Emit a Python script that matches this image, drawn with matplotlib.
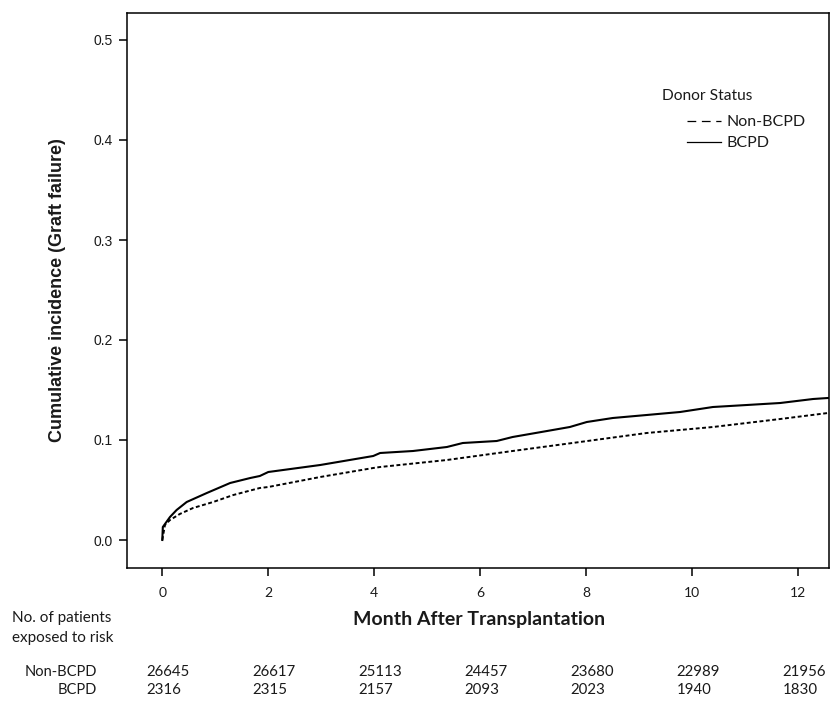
import matplotlib
matplotlib.use("Agg")
import matplotlib.pyplot as plt
import matplotlib.transforms as mtransforms

# ---- data ----
bcpd_t = [0, 0.01, 0.145, 0.27, 0.46, 0.84, 1.28, 1.66, 1.84, 2.0, 2.98, 3.98,
          4.11, 4.73, 5.37, 5.67, 6.31, 6.61, 7.26, 7.69, 8.01, 8.5, 9.14, 9.77,
          10.39, 11.03, 11.66, 12.28, 12.56]
bcpd_ci = [0, 0.013, 0.023, 0.030, 0.038, 0.047, 0.057, 0.062, 0.064, 0.068, 0.075, 0.084,
           0.087, 0.089, 0.093, 0.097, 0.099, 0.103, 0.109, 0.113, 0.118, 0.122, 0.125, 0.128,
           0.133, 0.135, 0.137, 0.141, 0.142]
non_t = [0, 0.05, 0.145, 0.33, 0.58, 0.96, 1.34, 1.84, 2.0, 2.98, 3.98, 4.11,
         5.37, 6.61, 7.88, 9.14, 10.39, 11.66, 12.56]
non_ci = [0, 0.015, 0.020, 0.026, 0.032, 0.038, 0.045, 0.052, 0.053, 0.063, 0.072, 0.073,
          0.080, 0.089, 0.098, 0.107, 0.113, 0.121, 0.127]

risk_months = [0, 2, 4, 6, 8, 10, 12]
risk_non = [26645, 26617, 25113, 24457, 23680, 22989, 21956]
risk_bcpd = [2316, 2315, 2157, 2093, 2023, 1940, 1830]

xticks = [0, 2, 4, 6, 8, 10, 12]
yticks = [0.0, 0.1, 0.2, 0.3, 0.4, 0.5]

TXT = "#1a1a1a"
W, H = 839, 702
fig = plt.figure(figsize=(W / 100, H / 100), dpi=100)

def fx(px):
    return px / W

def fy(py):
    return 1 - py / H

ax = fig.add_axes([fx(127), fy(567.5), fx(829) - fx(127), fy(12.5) - fy(567.5)])

ax.plot(non_t, non_ci, color="black", lw=1.4, linestyle=(0, (2.0, 1.3)))
ax.plot(bcpd_t, bcpd_ci, color="black", lw=1.5)

ax.set_xlim(-0.666, 12.58)
ax.set_ylim(-0.0275, 0.5275)
ax.set_xticks(xticks)
ax.set_xticklabels([str(v) for v in xticks], family="Lato", fontsize=10, color=TXT)
ax.set_yticks(yticks)
ax.set_yticklabels([f"{v:.1f}" for v in yticks], family="Liberation Sans", fontsize=10, color=TXT)
ax.tick_params(axis="both", direction="out", length=6, width=1.1, color="black")
ax.tick_params(axis="y", pad=4)
ax.tick_params(axis="x", pad=8)
for s in ax.spines.values():
    s.set_linewidth(1.1)

ax.set_ylabel("Cumulative incidence (Graft failure)", family="Liberation Sans",
              fontweight="bold", fontsize=13, color=TXT)
ax.yaxis.set_label_coords((66 - 127) / (829 - 127), 0.5)

# x axis title
fig.text(fx(479), fy(620), "Month After Transplantation", family="Lato", fontweight="bold",
         fontsize=14, ha="center", va="center", color=TXT)

# risk table header
fig.text(fx(12), fy(618), "No. of patients", family="Lato", fontsize=11, ha="left",
         va="center", color=TXT)
fig.text(fx(12), fy(638), "exposed to risk", family="Lato", fontsize=11, ha="left",
         va="center", color=TXT)
fig.text(fx(97), fy(671.5), "Non-BCPD", family="Lato", fontsize=10.5, ha="right",
         va="center", color=TXT)
fig.text(fx(97), fy(690), "BCPD", family="Lato", fontsize=10.5, ha="right",
         va="center", color=TXT)

trans = mtransforms.blended_transform_factory(ax.transData, fig.transFigure)
for m, a, b in zip(risk_months, risk_non, risk_bcpd):
    ax.text(m - 0.3, fy(671.5), str(a), transform=trans, family="Lato", fontsize=10.8,
            ha="left", va="center", clip_on=False, color=TXT)
    ax.text(m - 0.3, fy(690), str(b), transform=trans, family="Lato", fontsize=10.8,
            ha="left", va="center", clip_on=False, color=TXT)

# legend
fig.text(fx(662), fy(96), "Donor Status", family="Lato", fontsize=11.2, ha="left",
         va="center", color=TXT)
h1, = ax.plot([], [], color="black", lw=0.9, linestyle=(0, (7, 4.5)))
h2, = ax.plot([], [], color="black", lw=0.9)
leg = fig.legend([h1, h2], ["Non-BCPD", "BCPD"], loc="upper left",
                 bbox_to_anchor=(fx(687), fy(115)), frameon=False,
                 prop={"family": "Lato", "size": 11.5}, handlelength=2.1,
                 handletextpad=0.4, labelspacing=0.43, borderpad=0, borderaxespad=0)
for t in leg.get_texts():
    t.set_color(TXT)

fig.savefig("out.png", dpi=100)
